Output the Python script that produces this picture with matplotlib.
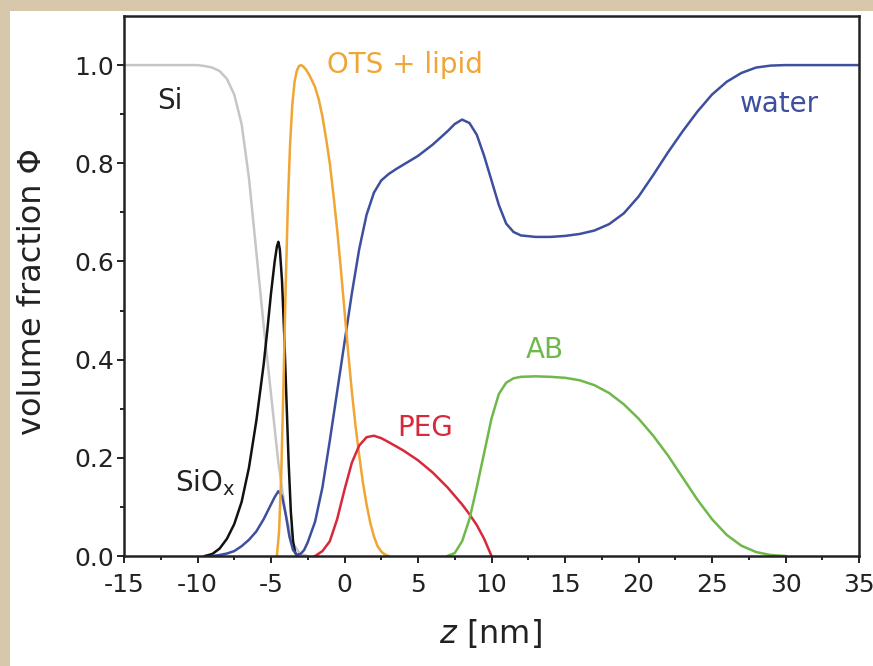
import matplotlib
matplotlib.use("Agg")
import matplotlib.pyplot as plt
from matplotlib.patches import Rectangle
from matplotlib.ticker import MultipleLocator, FixedLocator, FormatStrFormatter

plt.rcParams['font.family'] = ['DejaVu Sans']
plt.rcParams['mathtext.fontset'] = 'dejavusans'
plt.rcParams['axes.unicode_minus'] = False

# Volume-fraction profiles across the layered interface, z in nm
si_z = [-15, -10, -9.5, -9, -8.5, -8, -7.5, -7, -6.5, -6, -5.5, -5, -4.5, -4, -3.5, -3, -2.5]
si_v = [1.0, 1.0, 0.998, 0.995, 0.988, 0.972, 0.94, 0.88, 0.77, 0.62, 0.47, 0.33, 0.19, 0.085, 0.025, 0.004, 0.0]

siox_z = [-9.5, -9, -8.5, -8, -7.5, -7, -6.5, -6, -5.5, -5.25, -5, -4.75, -4.6, -4.5, -4.4,
          -4.25, -4.1, -3.95, -3.8, -3.65, -3.5, -3.35, -3.2]
siox_v = [0.0, 0.004, 0.015, 0.035, 0.065, 0.11, 0.18, 0.275, 0.39, 0.46, 0.535, 0.6, 0.63, 0.64, 0.625,
          0.56, 0.45, 0.32, 0.19, 0.09, 0.03, 0.006, 0.0]

water_z = [-9, -8.5, -8, -7.5, -7, -6.5, -6, -5.5, -5, -4.75, -4.5, -4.25, -4.0, -3.75, -3.5, -3.25,
           -3.0, -2.75, -2.5, -2.0, -1.5, -1.0, -0.5, 0, 0.5, 1.0, 1.5, 2.0, 2.5, 3.0, 3.5, 4, 5, 6,
           7, 7.5, 8, 8.5, 9, 9.5, 10, 10.5, 11, 11.5, 12, 13, 14, 15, 16, 17, 18, 19, 20, 21, 22,
           23, 24, 25, 26, 27, 28, 29, 30, 35]
water_v = [0.0, 0.002, 0.005, 0.01, 0.02, 0.033, 0.05, 0.075, 0.105, 0.12, 0.132, 0.122, 0.085, 0.04,
           0.012, 0.003, 0.004, 0.012, 0.028, 0.07, 0.14, 0.235, 0.335, 0.435, 0.535, 0.625, 0.695,
           0.74, 0.765, 0.778, 0.788, 0.797, 0.815, 0.838, 0.865, 0.88, 0.889, 0.882, 0.858, 0.815,
           0.765, 0.715, 0.677, 0.66, 0.653, 0.65, 0.65, 0.652, 0.656, 0.663, 0.676, 0.698, 0.732,
           0.776, 0.822, 0.865, 0.905, 0.94, 0.966, 0.984, 0.995, 0.999, 1.0, 1.0]

ots_z = [-4.6, -4.45, -4.3, -4.15, -4.0, -3.85, -3.7, -3.55, -3.4, -3.25, -3.1, -2.95, -2.8, -2.6,
         -2.4, -2.2, -2.0, -1.75, -1.5, -1.25, -1.0, -0.75, -0.5, -0.25, 0, 0.25, 0.5, 0.75, 1.0,
         1.25, 1.5, 1.75, 2.0, 2.25, 2.5, 2.75, 3.0]
ots_v = [0.0, 0.05, 0.17, 0.35, 0.55, 0.72, 0.84, 0.92, 0.965, 0.988, 0.998, 1.0, 0.997, 0.99,
         0.98, 0.968, 0.955, 0.93, 0.895, 0.85, 0.8, 0.735, 0.665, 0.585, 0.5, 0.415, 0.335, 0.265,
         0.205, 0.15, 0.105, 0.068, 0.04, 0.02, 0.009, 0.003, 0.0]

peg_z = [-2.0, -1.5, -1.0, -0.5, 0, 0.5, 1.0, 1.5, 2.0, 2.5, 3, 4, 5, 6, 7, 8, 8.5, 9, 9.5, 10]
peg_v = [0.0, 0.01, 0.03, 0.075, 0.135, 0.19, 0.225, 0.242, 0.245, 0.24, 0.232, 0.215, 0.195, 0.17,
         0.14, 0.105, 0.085, 0.063, 0.035, 0.0]

ab_z = [7.0, 7.5, 8.0, 8.5, 9.0, 9.5, 10.0, 10.5, 11.0, 11.5, 12, 13, 14, 15, 16, 17, 18, 19, 20,
        21, 22, 23, 24, 25, 26, 27, 28, 29, 30]
ab_v = [0.0, 0.006, 0.03, 0.075, 0.14, 0.21, 0.28, 0.33, 0.353, 0.362, 0.365, 0.366, 0.365, 0.363,
        0.358, 0.348, 0.332, 0.309, 0.28, 0.245, 0.205, 0.16, 0.115, 0.075, 0.043, 0.021, 0.008,
        0.002, 0.0]

x_major = [-15, -10, -5, 0, 5, 10, 15, 20, 25, 30, 35]
y_major = [0.0, 0.2, 0.4, 0.6, 0.8, 1.0]

fig = plt.figure(figsize=(8.73, 6.66), dpi=100)
fig.patch.set_facecolor('#d7c8ab')
fig.add_artist(Rectangle((10 / 873, 0), 1, 1 - 11 / 666, transform=fig.transFigure,
                         facecolor='white', edgecolor='none', zorder=0))

ax = fig.add_axes([124 / 873, 110 / 666, 735 / 873, 540 / 666])
ax.set_facecolor('white')

lw = 1.8
ax.plot(si_z, si_v, color='#c6c6c6', lw=lw)
ax.plot(siox_z, siox_v, color='#111111', lw=lw)
ax.plot(water_z, water_v, color='#3d4f9e', lw=lw)
ax.plot(ots_z, ots_v, color='#f0a534', lw=lw)
ax.plot(peg_z, peg_v, color='#d8283c', lw=lw)
ax.plot(ab_z, ab_v, color='#6fb84a', lw=lw)

ax.set_xlim(-15, 35)
ax.set_ylim(0, 1.1)
ax.xaxis.set_major_locator(FixedLocator(x_major))
ax.xaxis.set_minor_locator(MultipleLocator(2.5))
ax.yaxis.set_major_locator(FixedLocator(y_major))
ax.yaxis.set_minor_locator(FixedLocator([0.1, 0.3, 0.5, 0.7, 0.9]))
ax.yaxis.set_major_formatter(FormatStrFormatter('%.1f'))
ax.xaxis.set_major_formatter(FormatStrFormatter('%d'))

ax.tick_params(which='major', direction='out', length=5, width=1.4, labelsize=18,
               colors='#222222')
ax.tick_params(which='minor', direction='out', length=3, width=1.4, colors='#222222')
ax.tick_params(axis='x', which='major', pad=7)
ax.tick_params(axis='y', which='major', pad=2)
for side in ['top', 'right', 'bottom', 'left']:
    ax.spines[side].set_linewidth(1.8)
    ax.spines[side].set_color('#222222')

ax.set_xlabel(r'$\it{z}$ [nm]', fontsize=23, va='center', color='#222222')
ax.xaxis.set_label_coords(0.498, -0.143)
ax.set_ylabel('volume fraction Φ', fontsize=23, va='center', color='#222222')
ax.yaxis.set_label_coords(-0.125, 0.49)

fs = 20
ax.text(-11.9, 0.927, 'Si', color='#222222', fontsize=fs, ha='center', va='center')
ax.text(-9.5, 0.15, r'SiO$_\mathregular{x}$', color='#222222', fontsize=fs, ha='center', va='center')
ax.text(4.1, 1.0, 'OTS + lipid', color='#f0a534', fontsize=fs, ha='center', va='center')
ax.text(29.6, 0.92, 'water', color='#3d4f9e', fontsize=fs, ha='center', va='center')
ax.text(5.5, 0.26, 'PEG', color='#d8283c', fontsize=fs, ha='center', va='center')
ax.text(13.6, 0.42, 'AB', color='#6fb84a', fontsize=fs, ha='center', va='center')

fig.savefig('out.png', dpi=100, facecolor=fig.get_facecolor())
